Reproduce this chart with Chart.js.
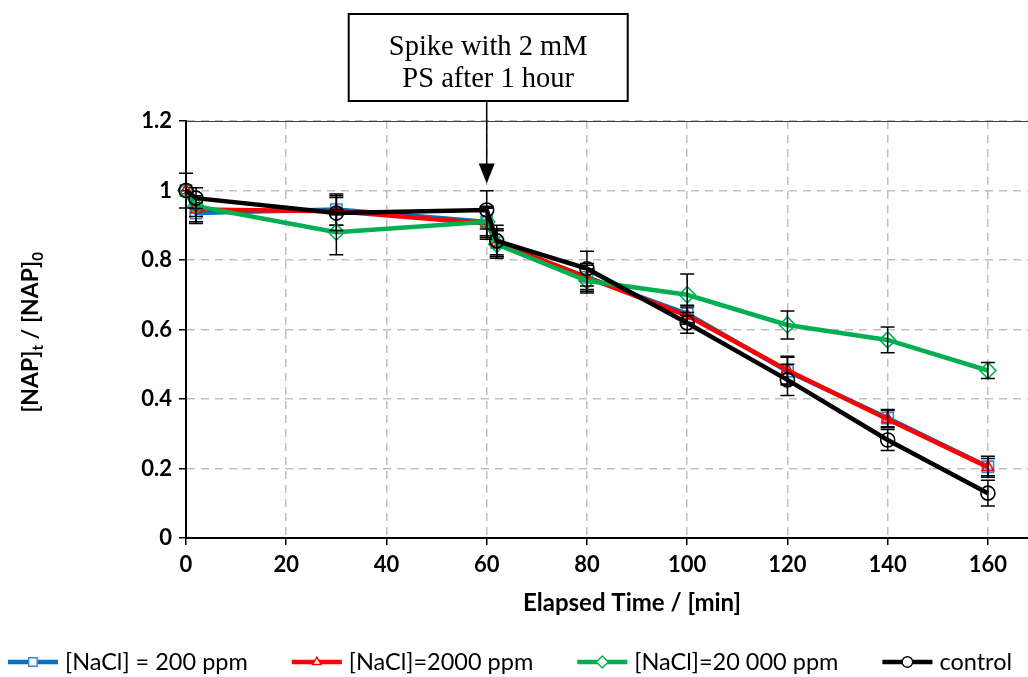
<!DOCTYPE html>
<html>
<head>
<meta charset="utf-8">
<script src="https://cdn.jsdelivr.net/npm/chart.js@4.4.0/dist/chart.umd.min.js"></script>
<style>
  html, body { margin: 0; padding: 0; background: #fff; overflow: hidden; }
  #wrap { width: 1028px; height: 677px; }
  canvas { display: block; }
</style>
</head>
<body>
<div id="wrap"><canvas id="napChart" width="1028" height="677"></canvas></div>
<script>
// Sampling times (min)
const times = [0, 2, 30, 60, 62, 80, 100, 120, 140, 160];

// Normalised concentration [NAP]t / [NAP]0 and standard deviations
const nacl200 = [1.0, 0.935, 0.945, 0.91, 0.85, 0.75, 0.645, 0.48, 0.345, 0.205];
const nacl200Err = [0.0, 0.03, 0.045, 0.045, 0.035, 0.035, 0.025, 0.04, 0.025, 0.03];
const nacl2000 = [1.0, 0.945, 0.94, 0.905, 0.85, 0.75, 0.64, 0.483, 0.342, 0.204];
const nacl2000Err = [0.0, 0.035, 0.04, 0.045, 0.04, 0.04, 0.025, 0.04, 0.025, 0.025];
const nacl20000 = [1.0, 0.955, 0.88, 0.91, 0.845, 0.74, 0.70, 0.613, 0.57, 0.482];
const nacl20000Err = [0.0, 0.03, 0.065, 0.04, 0.04, 0.035, 0.06, 0.04, 0.037, 0.023];
const control = [1.0, 0.978, 0.935, 0.944, 0.855, 0.775, 0.619, 0.455, 0.282, 0.129];
const controlErr = [0.05, 0.03, 0.05, 0.055, 0.045, 0.05, 0.03, 0.045, 0.03, 0.037];

const seriesLabels = ['[NaCl] = 200 ppm', '[NaCl]=2000 ppm', '[NaCl]=20 000 ppm', 'control'];
const yTickValues = [0, 0.2, 0.4, 0.6, 0.8, 1, 1.2];
const spikeTime = 60;
const spikeText = ['Spike with 2 mM', 'PS after 1 hour'];

const FONT = 'Lato, "Open Sans", sans-serif';

function toPoints(vals) {
    return times.map((t, i) => ({ x: t, y: vals[i] }));
}

// Build a dataset with shared styling
function makeSeries(label, vals, errs, color, pointColor, style, radius, order) {
    return {
        label: label,
        data: toPoints(vals),
        errors: errs,
        borderColor: color,
        backgroundColor: 'rgba(0,0,0,0)',
        borderWidth: 4.5,
        pointStyle: style,
        pointRadius: radius,
        pointBorderColor: pointColor,
        pointBackgroundColor: 'rgba(0,0,0,0)',
        pointBorderWidth: 1.6,
        showLine: true,
        tension: 0,
        clip: false,
        order: order
    };
}

const datasets = [
    makeSeries(seriesLabels[0], nacl200, nacl200Err, '#0070C0', '#2E8AD8', 'rect', 8, 4),
    makeSeries(seriesLabels[1], nacl2000, nacl2000Err, '#FF0000', '#FF0000', 'triangle', 6.5, 3),
    makeSeries(seriesLabels[2], nacl20000, nacl20000Err, '#00B050', '#00B050', 'rectRot', 8, 2),
    makeSeries(seriesLabels[3], control, controlErr, '#000000', '#000000', 'circle', 7, 1)
];

// Error bars, drawn right after each dataset
const errorBars = {
    id: 'errorBars',
    afterDatasetDraw(chart, args) {
        const ds = chart.data.datasets[args.index];
        if (!ds.errors) return;
        const y = chart.scales.y;
        const ctx = chart.ctx;
        ctx.save();
        ctx.strokeStyle = '#000';
        ctx.lineWidth = 1.5;
        args.meta.data.forEach((pt, i) => {
            const e = ds.errors[i];
            if (!e) return;
            const v = ds.data[i].y;
            const top = y.getPixelForValue(v + e);
            const bot = y.getPixelForValue(v - e);
            ctx.beginPath();
            ctx.moveTo(pt.x, top); ctx.lineTo(pt.x, bot);
            ctx.moveTo(pt.x - 7, top); ctx.lineTo(pt.x + 7, top);
            ctx.moveTo(pt.x - 7, bot); ctx.lineTo(pt.x + 7, bot);
            ctx.stroke();
        });
        ctx.restore();
    }
};

// Plot border, axis titles, annotation box and legend
const decorations = {
    id: 'decorations',
    afterDraw(chart) {
        const ctx = chart.ctx;
        const area = chart.chartArea;
        const xs = chart.scales.x;
        const ys = chart.scales.y;
        ctx.save();

        // top border of plot area
        ctx.strokeStyle = '#404040';
        ctx.lineWidth = 1;
        ctx.beginPath();
        ctx.moveTo(area.left, area.top + 0.5);
        ctx.lineTo(area.right, area.top + 0.5);
        ctx.stroke();

        // x axis title
        ctx.fillStyle = '#000';
        ctx.font = 'bold 24px ' + FONT;
        ctx.textAlign = 'center';
        ctx.textBaseline = 'middle';
        ctx.fillText('Elapsed Time / [min]', 632, 603);

        // y axis title with subscripts
        ctx.save();
        ctx.translate(30, (area.top + area.bottom) / 2 + 3);
        ctx.rotate(-Math.PI / 2);
        const parts = [['[NAP]', false], ['t', true], [' / [NAP]', false], ['0', true]];
        const big = 'bold 23px ' + FONT;
        const small = 'bold 15px ' + FONT;
        let total = 0;
        parts.forEach(p => { ctx.font = p[1] ? small : big; total += ctx.measureText(p[0]).width; });
        let px = -total / 2;
        ctx.textAlign = 'left';
        ctx.textBaseline = 'alphabetic';
        parts.forEach(p => {
            ctx.font = p[1] ? small : big;
            ctx.fillText(p[0], px, p[1] ? 13 : 8);
            px += ctx.measureText(p[0]).width;
        });
        ctx.restore();

        // annotation box + arrow
        const ax = xs.getPixelForValue(spikeTime);
        const boxL = ax - 138, boxT = 14, boxW = 279, boxH = 87;
        ctx.fillStyle = '#fff';
        ctx.fillRect(boxL, boxT, boxW, boxH);
        ctx.strokeStyle = '#000';
        ctx.lineWidth = 2;
        ctx.strokeRect(boxL, boxT, boxW, boxH);
        ctx.fillStyle = '#000';
        ctx.font = '28.5px "Liberation Serif", serif';
        ctx.textAlign = 'center';
        ctx.textBaseline = 'middle';
        ctx.fillText(spikeText[0], boxL + boxW / 2, boxT + 34);
        ctx.fillText(spikeText[1], boxL + boxW / 2, boxT + 66);

        const tip = ys.getPixelForValue(1.02);
        ctx.lineWidth = 1.5;
        ctx.beginPath();
        ctx.moveTo(ax, boxT + boxH);
        ctx.lineTo(ax, tip - 18);
        ctx.stroke();
        ctx.beginPath();
        ctx.moveTo(ax - 8, tip - 20);
        ctx.lineTo(ax + 8, tip - 20);
        ctx.lineTo(ax, tip);
        ctx.closePath();
        ctx.fill();

        // legend
        ctx.font = '23.5px ' + FONT;
        const sampleW = 50, textGap = 7, itemGap = 44;
        const widths = chart.data.datasets.map(d => ctx.measureText(d.label).width);
        const n = chart.data.datasets.length;
        const legendW = widths.reduce((a, b) => a + b, 0) + n * (sampleW + textGap) + itemGap * (n - 1);
        let lx = (chart.width - legendW) / 2 - 4;
        const ly = 662;
        chart.data.datasets.forEach((d, i) => {
            ctx.strokeStyle = d.borderColor;
            ctx.lineWidth = 4.5;
            ctx.beginPath();
            ctx.moveTo(lx, ly);
            ctx.lineTo(lx + sampleW, ly);
            ctx.stroke();
            ctx.fillStyle = '#fff';
            ctx.strokeStyle = d.pointBorderColor;
            ctx.lineWidth = 1.4;
            Chart.helpers.drawPoint(ctx, {
                pointStyle: d.pointStyle,
                radius: d.pointRadius * 0.75,
                borderWidth: 1.4
            }, lx + sampleW / 2, ly);
            ctx.fillStyle = '#000';
            ctx.textAlign = 'left';
            ctx.textBaseline = 'middle';
            ctx.fillText(d.label, lx + sampleW + textGap, ly);
            lx += sampleW + textGap + widths[i] + itemGap;
        });

        ctx.restore();
    }
};

const gridStyle = {
    color: '#BFBFBF',
    lineWidth: 1.5,
    tickColor: '#000',
    tickLength: 7,
    tickBorderDash: [],
    tickWidth: 1.5
};
const borderStyle = { color: '#000', width: 2, dash: [8, 6] };

new Chart(document.getElementById('napChart'), {
    type: 'scatter',
    data: { datasets: datasets },
    options: {
        responsive: false,
        animation: false,
        layout: { autoPadding: false, padding: { top: 121, left: 0, right: 0, bottom: 0 } },
        plugins: {
            legend: { display: false },
            tooltip: { enabled: false }
        },
        scales: {
            x: {
                type: 'linear',
                min: 0,
                max: 168,
                afterFit(scale) {
                    scale.height = 139;
                    scale.paddingLeft = 0;
                    scale.paddingRight = 0;
                },
                ticks: {
                    stepSize: 20,
                    includeBounds: false,
                    color: '#000',
                    padding: 7,
                    font: { family: FONT, size: 22, weight: 'bold' }
                },
                grid: gridStyle,
                border: borderStyle
            },
            y: {
                type: 'linear',
                min: 0,
                max: 1.2,
                afterFit(scale) {
                    scale.width = 186;
                    scale.paddingTop = 0;
                    scale.paddingBottom = 0;
                },
                afterBuildTicks(scale) { scale.ticks = yTickValues.map(v => ({ value: v })); },
                ticks: {
                    color: '#000',
                    padding: 7,
                    font: { family: FONT, size: 22, weight: 'bold' },
                    callback: v => String(+v.toFixed(1))
                },
                grid: gridStyle,
                border: borderStyle
            }
        }
    },
    plugins: [errorBars, decorations]
});
</script>
</body>
</html>
